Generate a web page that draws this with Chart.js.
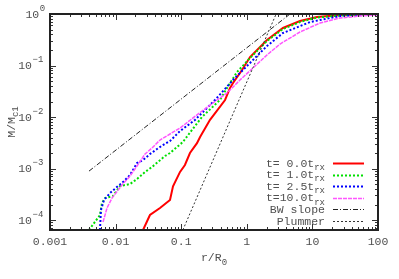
<!DOCTYPE html>
<html><head><meta charset="utf-8">
<script src="https://cdn.jsdelivr.net/npm/chart.js@4"></script>
<style>html,body{margin:0;padding:0;background:#fff;overflow:hidden}</style>
</head><body>
<canvas id="c" width="399" height="279" style="width:399px;height:279px;display:block"></canvas>
<script>
// ---- data ----
const r_t00 = [0.0262, 0.0334, 0.0475, 0.0675, 0.075, 0.096, 0.114, 0.136, 0.174, 0.194, 0.275, 0.466, 0.555, 0.617, 0.845, 1.12, 2.03, 3.56, 6.47, 11.7, 26.4, 100];
const m_t00 = [6.4e-5, 1.25e-4, 1.71e-4, 2.45e-4, 4.5e-4, 8.6e-4, 1.17e-3, 2.0e-3, 3.1e-3, 4.1e-3, 8.8e-3, 0.0214, 0.0366, 0.0457, 0.0818, 0.146, 0.313, 0.535, 0.731, 0.875, 0.956, 1.0];

const r_t01 = [0.00393, 0.00578, 0.0062, 0.00689, 0.00912, 0.01166, 0.0166, 0.0212, 0.0281, 0.0359, 0.0566, 0.0675, 0.106, 0.146, 0.207, 0.39, 0.499, 0.71, 1.12, 2.03, 3.56, 6.47, 11.7, 26.4, 100];
const m_t01 = [6.4e-5, 1.25e-4, 2.14e-4, 2.67e-4, 2.92e-4, 4.57e-4, 5.0e-4, 6.25e-4, 8.55e-4, 1.07e-3, 1.75e-3, 2.0e-3, 3.27e-3, 5.6e-3, 0.0100, 0.0214, 0.0366, 0.0748, 0.140, 0.299, 0.511, 0.699, 0.855, 0.935, 1.0];

const r_t25 = [0.00578, 0.00598, 0.00665, 0.00822, 0.01089, 0.0125, 0.0166, 0.0212, 0.0262, 0.0334, 0.0428, 0.0528, 0.0675, 0.096, 0.162, 0.327, 0.617, 1.12, 2.03, 3.56, 9.19, 26.4, 53.2, 100];
const m_t25 = [6.4e-5, 1.56e-4, 2.45e-4, 3.34e-4, 4.57e-4, 5.23e-4, 7.48e-4, 1.28e-3, 1.46e-3, 1.91e-3, 2.39e-3, 2.86e-3, 3.42e-3, 5.35e-3, 8.75e-3, 0.0214, 0.0523, 0.112, 0.239, 0.428, 0.699, 0.914, 0.956, 1.0];

const r_t10 = [0.00643, 0.0074, 0.00881, 0.0125, 0.0166, 0.0212, 0.0281, 0.0359, 0.0475, 0.0675, 0.096, 0.180, 0.352, 0.499, 0.787, 1.24, 2.03, 3.21, 6.47, 13.1, 26.4, 53.2, 100];
const m_t10 = [9.15e-5, 1.71e-4, 2.67e-4, 4.78e-4, 7.15e-4, 1.12e-3, 1.91e-3, 2.50e-3, 3.58e-3, 4.68e-3, 6.11e-3, 0.0114, 0.0214, 0.0292, 0.0523, 0.0894, 0.160, 0.261, 0.447, 0.668, 0.836, 0.914, 0.956];

const r_bw = [0.00393, 4.56];
const m_bw = [8.9e-4, 1.0];

const r_plummer = [0.106, 2.8];
const m_plummer = [6.4e-5, 1.0];

const xTickValues = [0.001, 0.01, 0.1, 1, 10, 100];
const xTickLabels = ['0.001', '0.01', '0.1', '1', '10', '100'];
const yTickExponents = [0, -1, -2, -3, -4];
const Y_MIN = 6.4e-5, Y_MAX = 1, X_MIN = 0.001, X_MAX = 100;

const legendMain = ['t= 0.0t', 't= 1.0t', 't= 2.5t', 't=10.0t', 'BW slope', 'Plummer'];
const legendSub  = ['rx', 'rx', 'rx', 'rx', '', ''];

// ---- chart ----
const FONT = '"Liberation Mono", "DejaVu Sans Mono", monospace';
const TXT = '#505050';
const pts = (rs, ms) => rs.map((r, i) => ({x: r, y: ms[i]}));

const datasets = [
  {data: pts(r_t00, m_t00), borderColor: '#ff0000', borderWidth: 2, borderDash: [], order: 6},
  {data: pts(r_t01, m_t01), borderColor: '#00e000', borderWidth: 2, borderDash: [2, 2], order: 5},
  {data: pts(r_t25, m_t25), borderColor: '#0000ff', borderWidth: 2, borderDash: [2, 2], order: 4},
  {data: pts(r_t10, m_t10), borderColor: '#ff55ff', borderWidth: 1.5, borderDash: [4, 1], order: 3},
  {data: pts(r_bw, m_bw), borderColor: '#222222', borderWidth: 1, borderDash: [5, 2, 1, 2], order: 2},
  {data: pts(r_plummer, m_plummer), borderColor: '#333333', borderWidth: 1, borderDash: [2, 2], order: 1}
];
datasets.forEach(d => { d.fill = false; d.pointRadius = 0; d.tension = 0; });

function line(ctx, x1, y1, x2, y2) { ctx.beginPath(); ctx.moveTo(x1, y1); ctx.lineTo(x2, y2); ctx.stroke(); }

const framePlugin = {
  id: 'frame',
  afterDatasetsDraw(chart) {
    const ctx = chart.ctx;
    const {left, right, top, bottom} = chart.chartArea;
    const xs = chart.scales.x, ys = chart.scales.y;
    ctx.save();
    // ticks (inward, mirrored)
    ctx.strokeStyle = '#333';
    ctx.lineWidth = 1;
    ctx.setLineDash([]);
    for (let e = -3; e <= 2; e++) {
      for (let k = 1; k <= 9; k++) {
        const v = k * Math.pow(10, e);
        if (v > X_MAX * 1.0001) break;
        const px = Math.round(xs.getPixelForValue(v)) + 0.5;
        const len = k === 1 ? 6 : 3;
        line(ctx, px, bottom, px, bottom - len);
        line(ctx, px, top, px, top + len);
      }
    }
    for (let e = -5; e <= 0; e++) {
      for (let k = 1; k <= 9; k++) {
        const v = k * Math.pow(10, e);
        if (v < Y_MIN || v > Y_MAX * 1.0001) continue;
        const py = Math.round(ys.getPixelForValue(v)) + 0.5;
        const len = k === 1 ? 6 : 3;
        line(ctx, left, py, left + len, py);
        line(ctx, right, py, right - len, py);
      }
    }
    // border
    ctx.strokeStyle = '#222';
    ctx.lineWidth = 2;
    ctx.strokeRect(left, top, right - left, bottom - top);

    // y tick labels 10^k
    ctx.fillStyle = TXT;
    ctx.textBaseline = 'middle';
    ctx.textAlign = 'left';
    yTickExponents.forEach(k => {
      const py = ys.getPixelForValue(Math.pow(10, k));
      const sup = k === 0 ? '0' : '\u2212' + Math.abs(k);
      const start = 47 - (2 + sup.length) * 7.2;
      ctx.font = '11.5px ' + FONT;
      ctx.fillText('10', start, py + 0.5);
      const w = ctx.measureText('10').width;
      ctx.font = '9px ' + FONT;
      ctx.fillText(sup, start + w + 0.5, py - 5.5);
    });

    // x title r/R_0
    ctx.font = '11.5px ' + FONT;
    const wMain = ctx.measureText('r/R').width;
    ctx.font = '9px ' + FONT;
    const wSub = ctx.measureText('0').width;
    let sx = (left + right) / 2 - (wMain + wSub) / 2;
    ctx.font = '11.5px ' + FONT;
    ctx.fillText('r/R', sx, 258);
    ctx.font = '9px ' + FONT;
    ctx.fillText('0', sx + wMain, 263);

    // y title M/M_c1
    ctx.save();
    ctx.translate(12, (top + bottom) / 2);
    ctx.rotate(-Math.PI / 2);
    ctx.font = '11.5px ' + FONT;
    const yMain = ctx.measureText('M/M').width;
    ctx.font = '9px ' + FONT;
    const ySub = ctx.measureText('c1').width;
    const ys0 = -(yMain + ySub) / 2;
    ctx.font = '11.5px ' + FONT;
    ctx.fillText('M/M', ys0, 0);
    ctx.font = '9px ' + FONT;
    ctx.fillText('c1', ys0 + yMain, 3.5);
    ctx.restore();

    // legend
    datasets.forEach((d, i) => {
      const y = 163 + i * 11.6;
      ctx.font = '9px ' + FONT;
      const sw = legendSub[i] ? ctx.measureText(legendSub[i]).width : 0;
      ctx.fillStyle = TXT;
      ctx.textAlign = 'right';
      ctx.font = '11.5px ' + FONT;
      ctx.fillText(legendMain[i], 325 - sw, y + 0.5);
      if (legendSub[i]) {
        ctx.textAlign = 'left';
        ctx.font = '9px ' + FONT;
        ctx.fillText(legendSub[i], 325 - sw, y + 4.5);
      }
      ctx.strokeStyle = d.borderColor;
      ctx.lineWidth = d.borderWidth;
      ctx.setLineDash(d.borderDash);
      line(ctx, 333, Math.round(y) + 0.5, 364, Math.round(y) + 0.5);
      ctx.setLineDash([]);
    });
    ctx.restore();
  }
};

new Chart(document.getElementById('c').getContext('2d'), {
  type: 'line',
  data: {datasets},
  options: {
    responsive: false,
    animation: false,
    devicePixelRatio: 1,
    layout: {padding: {top: 14, right: 21, left: 0, bottom: 0}},
    plugins: {legend: {display: false}, tooltip: {enabled: false}},
    scales: {
      x: {
        type: 'logarithmic', min: X_MIN, max: X_MAX,
        grid: {display: false, drawTicks: false}, border: {display: false},
        ticks: {
          autoSkip: false, maxRotation: 0, minRotation: 0, padding: 5, color: TXT,
          font: {family: FONT, size: 11.5},
          callback(value) {
            const i = xTickValues.findIndex(v => Math.abs(v - value) / v < 1e-6);
            return i >= 0 ? xTickLabels[i] : '';
          }
        },
        afterFit(s) { s.height = 49; }
      },
      y: {
        type: 'logarithmic', min: Y_MIN, max: Y_MAX,
        grid: {display: false, drawTicks: false}, border: {display: false},
        ticks: {display: false},
        afterFit(s) { s.width = 50; }
      }
    }
  },
  plugins: [framePlugin]
});
</script>
</body></html>
